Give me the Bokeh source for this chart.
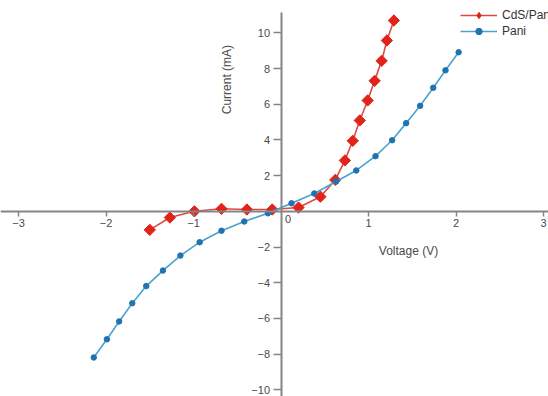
from math import pi
from bokeh.plotting import figure
from bokeh.models import Range1d, FixedTicker, Label, Legend, LegendItem
from bokeh.embed import file_html
from bokeh.resources import INLINE

# CdS/Pani (red diamonds)
cds_v = [-1.50, -1.27, -0.99, -0.68, -0.39, -0.10, 0.20, 0.45, 0.62, 0.73,
         0.82, 0.90, 0.99, 1.07, 1.15, 1.21, 1.29]
cds_i = [-1.04, -0.35, 0.00, 0.14, 0.10, 0.10, 0.21, 0.82, 1.76, 2.85,
         3.95, 5.09, 6.21, 7.31, 8.43, 9.57, 10.69]

# Pani (blue dots)
pani_v = [-2.14, -1.99, -1.85, -1.70, -1.54, -1.35, -1.15, -0.93, -0.68, -0.42,
          -0.15, 0.12, 0.38, 0.63, 0.86, 1.08, 1.27, 1.43, 1.59, 1.74, 1.88, 2.03]
pani_i = [-8.19, -7.17, -6.17, -5.15, -4.19, -3.32, -2.48, -1.73, -1.09, -0.57,
          -0.11, 0.45, 1.00, 1.67, 2.29, 3.09, 3.98, 4.94, 5.91, 6.92, 7.90, 8.91]

x_ticks = [-3, -2, -1, 1, 2, 3]
y_ticks = [-10, -8, -6, -4, -2, 2, 4, 6, 8, 10]
series_names = ["CdS/Pani", "Pani"]
x_title = "Voltage (V)"
y_title = "Current (mA)"

FONT = "Liberation Sans"
AXIS_COLOR = "#858585"
LABEL_COLOR = "#4a4a4a"
RED = "#e2231a"
BLUE = "#1f74b0"

p = figure(width=548, height=396, output_backend="svg", toolbar_location=None,
           x_range=Range1d(-3.206, 3.057), y_range=Range1d(-10.375, 11.81),
           min_border=0)
p.outline_line_color = None
p.xgrid.visible = False
p.ygrid.visible = False
p.background_fill_color = "white"
p.border_fill_color = "white"

# centred axes
for ax in (p.xaxis[0], p.yaxis[0]):
    ax.fixed_location = 0
    ax.axis_line_color = AXIS_COLOR
    ax.axis_line_width = 2
    ax.major_tick_line_color = AXIS_COLOR
    ax.major_tick_line_width = 1.5
    ax.major_tick_in = 0
    ax.minor_tick_in = 0
    ax.minor_tick_out = 0
    ax.major_label_text_font = FONT
    ax.major_label_text_font_size = "11px"
    ax.major_label_text_color = LABEL_COLOR

p.xaxis[0].ticker = FixedTicker(ticks=x_ticks)
p.xaxis[0].major_tick_out = 5
p.xaxis[0].major_label_standoff = 3
p.yaxis[0].ticker = FixedTicker(ticks=y_ticks)
p.yaxis[0].major_tick_out = 8
p.yaxis[0].major_label_standoff = 3
p.yaxis[0].bounds = (-10.375, 11.15)

# series
r_line = p.line(cds_v, cds_i, line_color="#dd4a44", line_width=1.6)
# legend key marker: a diamond drawn (hidden) under the last data point
r_key = p.scatter(cds_v[-1:], cds_i[-1:], marker="diamond", size=11,
                  fill_color=RED, line_color=RED)
r_pts = p.scatter(cds_v, cds_i, marker="square", angle=pi / 4, size=8,
                  fill_color=RED, line_color=RED)
b_line = p.line(pani_v, pani_i, line_color="#4aa3cc", line_width=1.6)
b_pts = p.scatter(pani_v, pani_i, marker="circle", size=5.5,
                  fill_color=BLUE, line_color=BLUE)

legend = Legend(items=[LegendItem(label=series_names[0], renderers=[r_line, r_key]),
                       LegendItem(label=series_names[1], renderers=[b_line, b_pts])],
                location=(460, 357), glyph_width=37, glyph_height=16,
                label_height=16, label_standoff=5, spacing=0, padding=0, margin=0,
                border_line_color=None, background_fill_alpha=0,
                label_text_font=FONT, label_text_font_size="12px",
                label_text_color="#333333")
p.add_layout(legend, "center")

# axis titles and origin label
p.add_layout(Label(x=1.457, y=-2.25, text=x_title, text_font=FONT,
                   text_font_size="12px", text_color=LABEL_COLOR,
                   text_align="center", text_baseline="middle"))
p.add_layout(Label(x=-0.623, y=7.38, text=y_title, angle=pi / 2, text_font=FONT,
                   text_font_size="12px", text_color=LABEL_COLOR,
                   text_align="center", text_baseline="middle"))
p.add_layout(Label(x=0, y=0, x_offset=7, y_offset=-8, text="0", text_font=FONT,
                   text_font_size="11px", text_color=LABEL_COLOR,
                   text_align="center", text_baseline="middle"))

open("out.html", "w").write(file_html(p, INLINE))
